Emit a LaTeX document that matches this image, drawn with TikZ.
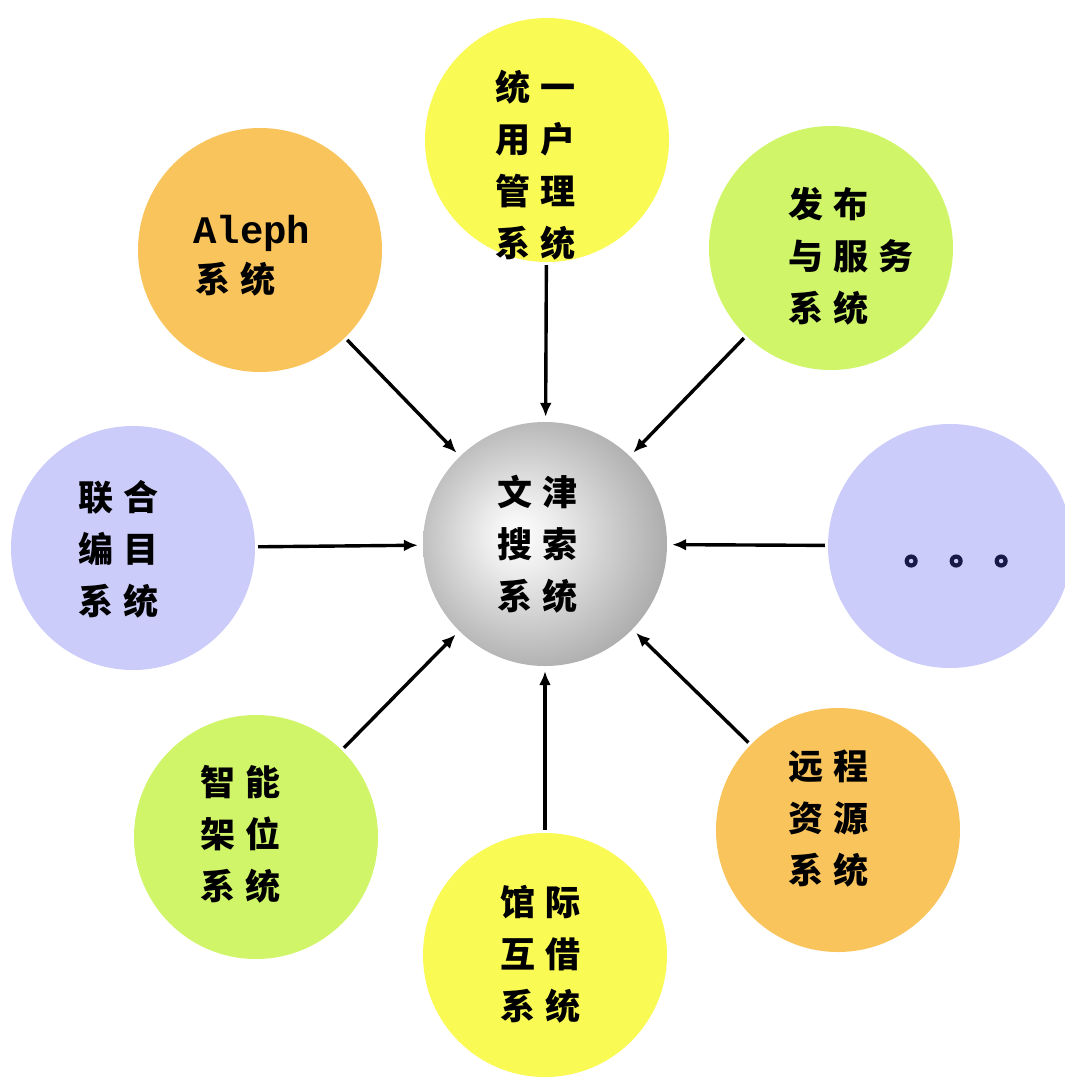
\documentclass[tikz,border=0pt]{standalone}
\usepackage{fontspec}
\newfontfamily\cjk{Noto Sans CJK SC}
\newfontfamily\cjkdot[FakeBold=3]{Noto Sans CJK SC}
\newfontfamily\monob{Liberation Mono}
\usetikzlibrary{arrows.meta}
\definecolor{cyellow}{RGB}{250,250,85}
\definecolor{corange}{RGB}{249,196,92}
\definecolor{cgreen}{RGB}{208,245,105}
\definecolor{clav}{RGB}{204,204,250}
\definecolor{dotc}{RGB}{25,25,70}
\pgfdeclareradialshading{sphere}{\pgfpoint{-6bp}{2bp}}{color(0bp)=(white); color(8bp)=(black!8); color(30bp)=(black!35); color(50bp)=(black!55)}
\newcommand\cg{\hspace{10pt}}
\tikzset{
  sys/.style={circle, minimum size=244pt, inner sep=0pt},
  lbl/.style={anchor=north west, inner sep=0pt, align=left, text=black,
    font=\cjk\bfseries\fontsize{35}{52}\selectfont},
  arr/.style={line width=3.4pt, -{Latex[length=14pt,width=12pt]}, shorten >=5pt, shorten <=3pt}
}
\begin{document}
\begin{tikzpicture}[x=1pt,y=-1pt]
\clip (0,0) rectangle (1065,1077);
\fill[white] (0,0) rectangle (1065,1077);
% circles
\node[sys, shading=sphere] (core) at (545,544) {};
\node[sys, fill=cyellow] (user) at (547,140) {};
\node[sys, fill=corange] (aleph) at (260,250) {};
\node[sys, fill=cgreen] (pub) at (831,248) {};
\node[sys, fill=clav] (union) at (133,548) {};
\node[sys, fill=clav] (more) at (950,546) {};
\node[sys, fill=cgreen] (shelf) at (256,837) {};
\node[sys, fill=cyellow] (ill) at (545,955) {};
\node[sys, fill=corange] (remote) at (838,830) {};
% arrows
\foreach \s in {user,aleph,pub,union,more,shelf,ill,remote}
  \draw[arr] (\s) -- (core);
% labels
\node[lbl] (core-t) at (497,475) {文\cg 津\\搜\cg 索\\系\cg 统};
\node[lbl] (user-t) at (495,70) {统\cg 一\\用\cg 户\\管\cg 理\\系\cg 统};
\node[anchor=base west, inner sep=0pt, font=\monob\bfseries\fontsize{39}{40}\selectfont] (aleph-en) at (193,243) {Aleph};
\node[lbl] (aleph-cn) at (195,262) {系\cg 统};
\node[lbl] (pub-t) at (788,187) {发\cg 布\\与\cg 服\cg 务\\系\cg 统};
\node[lbl] (union-t) at (78,480) {联\cg 合\\编\cg 目\\系\cg 统};
\node[lbl] (shelf-t) at (200,765) {智\cg 能\\架\cg 位\\系\cg 统};
\node[lbl] (ill-t) at (500,885) {馆\cg 际\\互\cg 借\\系\cg 统};
\node[lbl] (remote-t) at (788,750) {远\cg 程\\资\cg 源\\系\cg 统};
\node[anchor=base west, inner sep=0pt, text=dotc, font=\cjkdot\bfseries\fontsize{36}{40}\selectfont] (more-t) at (904,564) {。\hspace{9pt}。\hspace{9pt}。};
\end{tikzpicture}
\end{document}
